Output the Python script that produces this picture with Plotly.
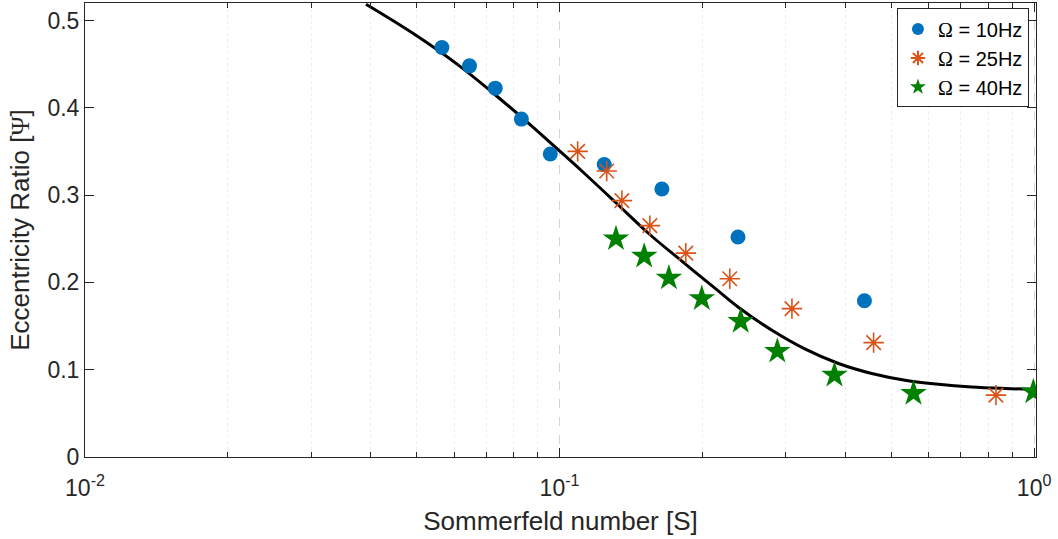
import plotly.graph_objects as go

# ---- data ----
s_10 = [0.0565, 0.0646, 0.0732, 0.0831, 0.0956, 0.1242, 0.1643, 0.2377, 0.439]
e_10 = [0.469, 0.448, 0.4225, 0.387, 0.347, 0.335, 0.307, 0.252, 0.179]

s_25 = [0.1092, 0.1257, 0.1353, 0.1550, 0.1845, 0.2284, 0.3088, 0.459, 0.831]
e_25 = [0.350, 0.3276, 0.2937, 0.265, 0.2335, 0.2042, 0.170, 0.131, 0.0709]

s_40 = [0.1315, 0.1508, 0.170, 0.1994, 0.2408, 0.2877, 0.3796, 0.557, 0.9965]
e_40 = [0.250, 0.230, 0.205, 0.1814, 0.1554, 0.1211, 0.0937, 0.0728, 0.0746]

s_theory = [0.0391, 0.049, 0.0615, 0.0722, 0.0849, 0.0998, 0.1117, 0.1313, 0.1543,
            0.1813, 0.2131, 0.2385, 0.2803, 0.3295, 0.3871, 0.4548, 0.5347, 0.6283,
            0.7383, 0.868, 1.0]
e_theory = [0.5185, 0.4855, 0.448, 0.4175, 0.385, 0.351, 0.327, 0.2915, 0.2557,
            0.224, 0.1928, 0.1712, 0.1451, 0.1235, 0.1071, 0.0957, 0.088, 0.0834,
            0.0803, 0.0785, 0.0774]

x_tickvals = [0.01, 0.1, 1]
x_ticktext = ["10<sup>-2</sup>", "10<sup>-1</sup>", "10<sup>0</sup>"]
y_tickvals = [0, 0.1, 0.2, 0.3, 0.4, 0.5]
y_ticktext = ["0", "0.1", "0.2", "0.3", "0.4", "0.5"]
minor_vals = [m * d for d in (0.01, 0.1) for m in range(2, 10)]

OMEGA = "<span style='font-family:Liberation Serif'>Ω</span>"
PSI = "<span style='font-family:Liberation Serif'>Ψ</span>"

fig = go.Figure()
fig.add_trace(go.Scatter(x=s_theory, y=e_theory, mode="lines",
                         line=dict(color="black", width=3, shape="spline", smoothing=1.0),
                         showlegend=False, hoverinfo="skip"))
fig.add_trace(go.Scatter(x=s_10, y=e_10, mode="markers", name=OMEGA + " = 10Hz",
                         marker=dict(symbol="circle", size=15, color="#0072BD")))
fig.add_trace(go.Scatter(x=s_25, y=e_25, mode="markers", name=OMEGA + " = 25Hz",
                         marker=dict(symbol="asterisk-open", size=17, color="#D95319",
                                     line=dict(color="#D95319", width=1.6))))
fig.add_trace(go.Scatter(x=s_40, y=e_40, mode="markers", name=OMEGA + " = 40Hz",
                         marker=dict(symbol="star", size=20, color="#008000", line=dict(width=0))))

axis_color = "#262626"
fig.update_layout(
    width=1058, height=539,
    margin=dict(l=85, r=22, t=3, b=82),
    paper_bgcolor="white", plot_bgcolor="white",
    font=dict(family="Liberation Sans, Arial", size=23, color=axis_color),
    xaxis=dict(
        type="log", range=[-2, 0.004], automargin=False,
        tickmode="array", tickvals=x_tickvals, ticktext=x_ticktext,
        ticks="inside", ticklen=9, tickwidth=1, tickcolor=axis_color,
        ticklabelstandoff=10,
        showline=True, linecolor=axis_color, linewidth=1, mirror="ticks",
        showgrid=True, gridcolor="#d4d4d4", griddash="dash", gridwidth=1,
        minor=dict(tickmode="array", tickvals=minor_vals, ticks="inside", ticklen=5,
                   tickcolor=axis_color, showgrid=True, gridcolor="#eeeeee", griddash="dot"),
        zeroline=False,
        title=dict(text="Sommerfeld number [S]", font=dict(size=26), standoff=12),
        tickfont=dict(size=23),
    ),
    yaxis=dict(
        range=[0, 0.52], automargin=False,
        tickmode="array", tickvals=y_tickvals, ticktext=y_ticktext,
        ticks="inside", ticklen=9, tickwidth=1, tickcolor=axis_color,
        showline=True, linecolor=axis_color, linewidth=1, mirror="ticks",
        showgrid=False, zeroline=False,
        title=dict(text="Eccentricity Ratio [" + PSI + "]", font=dict(size=26), standoff=10),
        tickfont=dict(size=23),
    ),
    legend=dict(
        x=0.9926, y=0.988, xanchor="right", yanchor="top",
        bgcolor="white", bordercolor="#262626", borderwidth=1,
        font=dict(size=20, color="black"),
        itemsizing="constant", tracegroupgap=0,
    ),
)

fig.write_html("out.html", config={"displayModeBar": False},
               post_script="document.body.style.margin='0';document.body.style.overflow='hidden';")
